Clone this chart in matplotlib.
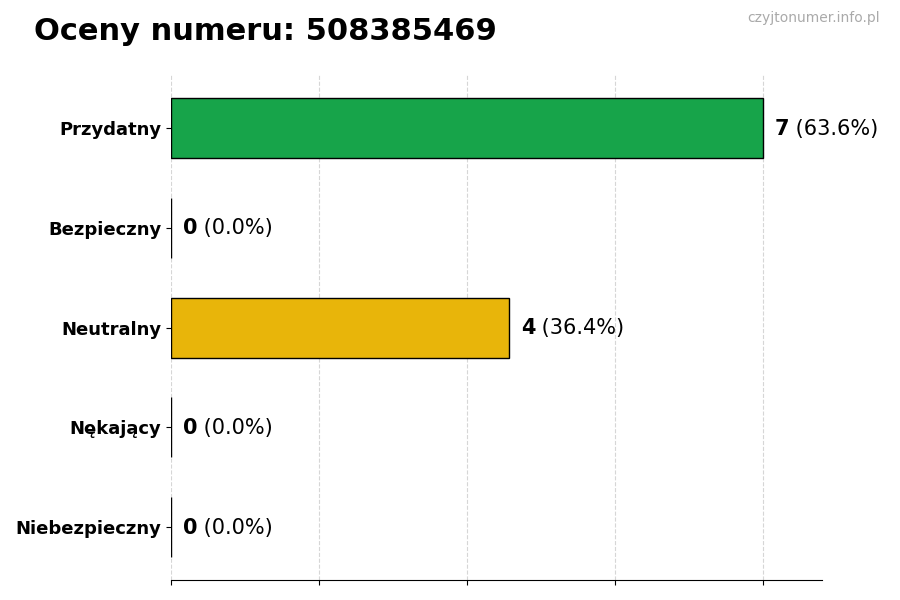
import numpy as np
import matplotlib
matplotlib.use('Agg')
import matplotlib.pyplot as plt

kategorie = ['Przydatny', 'Bezpieczny', 'Neutralny', 'Nękający', 'Niebezpieczny']
liczby = [7, 0, 4, 0, 0]
kolory = ['#17a44a', '#8fc43f', '#e8b50a', '#e67e22', '#d62c2c']
numer = '508385469'

suma = sum(liczby)
procenty = [100 * v / suma for v in liczby]
pozycje = np.arange(len(kategorie))[::-1]

fig = plt.figure(figsize=(9, 6), dpi=100)
ax = fig.add_axes([0.19, 0.033, 0.723, 0.842])

ax.barh(pozycje, liczby, height=0.6, color=kolory, edgecolor='black', linewidth=1, zorder=3)

xmax = max(liczby) * 1.1
ax.set_xlim(0, xmax)
ax.set_xticks(np.linspace(0, max(liczby), 5))
ax.set_xticklabels([])
ax.grid(axis='x', linestyle='--', color='#cccccc', alpha=0.8, linewidth=0.8, zorder=0)
ax.set_axisbelow(True)

ax.set_yticks(pozycje)
ax.set_yticklabels(kategorie, fontsize=13, fontweight='bold')

ax.spines['top'].set_visible(False)
ax.spines['right'].set_visible(False)
ax.spines['left'].set_visible(False)

for y, v, p in zip(pozycje, liczby, procenty):
    t = ax.annotate(str(v), xy=(v, y), xytext=(8.5, -0.5), textcoords='offset points',
                    fontsize=15, fontweight='bold', va='center', ha='left')
    ax.annotate(f' ({p:.1f}%)', xy=(1, 0.5), xycoords=t, fontsize=15,
                va='center', ha='left')

fig.text(0.038, 0.948, f'Oceny numeru: {numer}', fontsize=22, fontweight='bold', va='center')
fig.text(0.978, 0.97, 'czyjtonumer.info.pl', fontsize=10, color='#aaaaaa', ha='right', va='center')

fig.savefig('out.png', dpi=100)
